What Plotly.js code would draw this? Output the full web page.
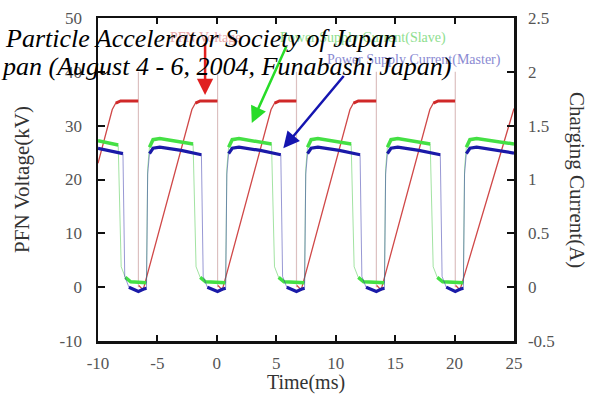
<!DOCTYPE html>
<html>
<head>
<meta charset="utf-8">
<script src="https://cdn.plot.ly/plotly-3.0.1.min.js"></script>
<style>html,body{margin:0;padding:0;background:#fff;}#chart{width:590px;height:394px;}</style>
</head>
<body>
<div id="chart"></div>
<script>
// PFN voltage (kV, left axis); null = fast discharge edge (drawn faint separately)
const redTime = [-10, -8.8, -8.5, -8.1, -6.62, null, -6.57, -6.2,
  -2.1, -1.8, -1.4, 0.04, null, 0.09, 0.46,
  4.56, 4.86, 5.26, 6.68, null, 6.73, 7.1,
  11.2, 11.5, 11.9, 13.4, null, 13.45, 13.82,
  17.92, 18.22, 18.62, 20.04, null, 20.09, 20.46, 25];
const redKV = [23.0, 33.0, 34.2, 34.6, 34.6, null, 0.3, -0.5,
  33.0, 34.2, 34.6, 34.6, null, 0.3, -0.5,
  33.0, 34.2, 34.6, 34.6, null, 0.3, -0.5,
  33.0, 34.2, 34.6, 34.6, null, 0.3, -0.5,
  33.0, 34.2, 34.6, 34.6, null, 0.3, -0.5, 33.2];
// faint switching spikes at each discharge
const dropTime = [-6.6, 0.06, 6.7, 13.42, 20.06];
const dropTopKV = [40, 40, 40, 40, 40];

// Power supply current (Slave), A, right axis
const greenTime = [-10, -8.3, -8.05, -7.7, -7.25, -5.92,
  -5.82, -5.67, -5.37, -4.8, -3.5, -2.0,
  -1.75, -1.4, -0.95, 0.74,
  0.84, 0.99, 1.29, 1.86, 3.16, 4.6,
  4.85, 5.2, 5.65, 7.38,
  7.48, 7.63, 7.93, 8.5, 9.8, 11.3,
  11.55, 11.9, 12.35, 14.1,
  14.2, 14.35, 14.65, 15.22, 16.52, 17.95,
  18.2, 18.55, 19.0, 20.74,
  20.84, 20.99, 21.29, 21.86, 23.16, 25];
const greenA = [1.36, 1.32, 0.19, 0.09, 0.05, 0.04,
  1.1, 1.3, 1.37, 1.38, 1.36, 1.33,
  0.19, 0.09, 0.05, 0.04,
  1.1, 1.3, 1.37, 1.38, 1.36, 1.33,
  0.19, 0.09, 0.05, 0.04,
  1.1, 1.3, 1.37, 1.38, 1.36, 1.33,
  0.19, 0.09, 0.05, 0.04,
  1.1, 1.3, 1.37, 1.38, 1.36, 1.33,
  0.19, 0.09, 0.05, 0.04,
  1.1, 1.3, 1.37, 1.38, 1.36, 1.33];

// Power supply current (Master), A, right axis
const blueTime = [-10, -7.9, -7.75, -7.4, -7.0, -6.6, -6.2, -5.92,
  -5.82, -5.67, -5.37, -4.8, -3.0, -1.3,
  -1.15, -0.8, -0.4, 0.06, 0.45, 0.74,
  0.84, 0.99, 1.29, 1.86, 3.66, 5.38,
  5.53, 5.88, 6.3, 6.7, 7.1, 7.38,
  7.48, 7.63, 7.93, 8.5, 10.3, 12.05,
  12.2, 12.55, 13.0, 13.42, 13.8, 14.1,
  14.2, 14.35, 14.65, 15.22, 17.0, 18.8,
  18.95, 19.3, 19.7, 20.06, 20.45, 20.74,
  20.84, 20.99, 21.29, 21.86, 23.5, 25];
const blueA = [1.29, 1.24, 0.1, 0.0, -0.02, -0.04, -0.02, -0.01,
  1.05, 1.24, 1.29, 1.30, 1.27, 1.23,
  0.1, 0.0, -0.02, -0.04, -0.02, -0.01,
  1.05, 1.24, 1.29, 1.30, 1.27, 1.23,
  0.1, 0.0, -0.02, -0.04, -0.02, -0.01,
  1.05, 1.24, 1.29, 1.30, 1.27, 1.23,
  0.1, 0.0, -0.02, -0.04, -0.02, -0.01,
  1.05, 1.24, 1.29, 1.30, 1.27, 1.23,
  0.1, 0.0, -0.02, -0.04, -0.02, -0.01,
  1.05, 1.24, 1.29, 1.30, 1.27, 1.245];

// tick labels
const xTicks = [-10, -5, 0, 5, 10, 15, 20, 25];
const xTickText = ['-10', '-5', '0', '5', '10', '15', '20', '25'];
const yTicks = [-10, 0, 10, 20, 30, 40, 50];
const yTickText = ['-10', '0', '10', '20', '30', '40', '50'];
const y2Ticks = [-0.5, 0, 0.5, 1, 1.5, 2, 2.5];
const y2TickText = ['-0.5', '0', '0.5', '1', '1.5', '2', '2.5'];

const serif = 'Liberation Serif, Times New Roman, serif';

// flat (plateau / bottom) parts drawn thick to mimic the noisy scope trace
const keep = (arr, f) => arr.map(v => (v !== null && f(v)) ? v : null);
const spikeX = [], spikeY = [];
dropTime.forEach((t, i) => { spikeX.push(t, t, null); spikeY.push(dropTopKV[i], 0, null); });

const traces = [
  {x: spikeX, y: spikeY, mode: 'lines', line: {color: '#dcc0c0', width: 1.2}, hoverinfo: 'skip'},
  {x: greenTime, y: greenA, yaxis: 'y2', mode: 'lines', line: {color: 'rgba(70,200,70,0.5)', width: 1}},
  {x: greenTime, y: keep(greenA, v => v >= 1.2 || v < 0.1), yaxis: 'y2', mode: 'lines',
   line: {color: '#44e044', width: 3.5}, connectgaps: false},
  {x: blueTime, y: blueA, yaxis: 'y2', mode: 'lines', line: {color: 'rgba(50,50,170,0.5)', width: 1}},
  {x: blueTime, y: keep(blueA, v => v >= 1.2 || v < 0.05), yaxis: 'y2', mode: 'lines',
   line: {color: '#1a1aa8', width: 3.2}, connectgaps: false},
  {x: redTime, y: redKV, mode: 'lines', line: {color: '#d04848', width: 1.3}, connectgaps: false},
  {x: redTime, y: keep(redKV, v => v >= 34), mode: 'lines', line: {color: '#d02828', width: 3}, connectgaps: false}
];

const px = p => (p - 98) / 416;
const py = p => (341 - p) / 323;

const layout = {
  width: 590, height: 394,
  margin: {l: 98, r: 76, t: 18, b: 53},
  paper_bgcolor: '#fff', plot_bgcolor: '#fff',
  showlegend: false,
  font: {family: serif, color: '#444', size: 17},
  xaxis: {
    range: [-10, 25], tickvals: xTicks, ticktext: xTickText,
    ticks: 'inside', ticklen: 6, tickwidth: 2, tickcolor: '#111',
    showline: true, linewidth: 2.5, linecolor: '#111', mirror: 'ticks',
    showgrid: false, zeroline: false, ticklabelstandoff: 5,
    tickfont: {family: serif, size: 17, color: '#555'},
    title: {text: 'Time(ms)', font: {family: serif, size: 20, color: '#333'}, standoff: 0}
  },
  yaxis: {
    range: [-10, 50], tickvals: yTicks, ticktext: yTickText,
    ticks: 'inside', ticklen: 7, tickwidth: 2, tickcolor: '#111',
    showline: true, linewidth: 2.5, linecolor: '#111',
    showgrid: false, zeroline: false, ticklabelstandoff: 10,
    tickfont: {family: serif, size: 17, color: '#555'},
    title: {text: 'PFN Voltage(kV)', font: {family: serif, size: 21, color: '#333'}, standoff: 24}
  },
  yaxis2: {
    range: [-0.5, 2.5], overlaying: 'y', side: 'right',
    tickvals: y2Ticks, ticktext: y2TickText,
    ticks: 'inside', ticklen: 7, tickwidth: 2, tickcolor: '#111',
    showline: true, linewidth: 2.5, linecolor: '#111',
    showgrid: false, zeroline: false, ticklabelstandoff: 8,
    tickfont: {family: serif, size: 17, color: '#555'}
  },
  annotations: [
    // legend labels (faded)
    {xref: 'paper', yref: 'paper', x: px(205), y: py(37), text: 'PFN Voltage', showarrow: false,
     font: {family: serif, size: 14, color: '#eaa8a8'}, xanchor: 'center', yanchor: 'middle'},
    {xref: 'paper', yref: 'paper', x: px(448), y: py(38), text: 'Power Supply Current(Slave)', showarrow: false,
     font: {family: serif, size: 14, color: '#8ede8e'}, xanchor: 'right', yanchor: 'middle'},
    {xref: 'paper', yref: 'paper', x: px(503), y: py(60), text: 'Power Supply Current(Master)', showarrow: false,
     font: {family: serif, size: 14, color: '#8a8ad2'}, xanchor: 'right', yanchor: 'middle'},
    // arrows
    {x: -0.99, y: 35.7, ax: -0.99, ay: 45.6, xref: 'x', yref: 'y', axref: 'x', ayref: 'y',
     showarrow: true, arrowhead: 2, arrowsize: 1.3, arrowwidth: 2.5, arrowcolor: '#e02020', text: ''},
    {x: 2.94, y: 30.5, ax: 5.9, ay: 45.0, xref: 'x', yref: 'y', axref: 'x', ayref: 'y',
     showarrow: true, arrowhead: 2, arrowsize: 1.3, arrowwidth: 2.5, arrowcolor: '#28dc28', text: ''},
    {x: 5.59, y: 25.8, ax: 10.78, ay: 39.5, xref: 'x', yref: 'y', axref: 'x', ayref: 'y',
     showarrow: true, arrowhead: 2, arrowsize: 1.3, arrowwidth: 2.5, arrowcolor: '#1515b0', text: ''},
    // right axis title
    {xref: 'paper', yref: 'paper', x: px(577), y: py(180), text: 'Charging Current(A)', showarrow: false,
     textangle: 90, font: {family: serif, size: 21, color: '#333'}, xanchor: 'center', yanchor: 'middle'},
    // overlaid header text
    {xref: 'paper', yref: 'paper', x: px(3), y: py(38), text: '<i>Particle Accelerator Society of Japan</i>',
     showarrow: false, font: {family: serif, size: 26, color: '#000'}, xanchor: 'left', yanchor: 'middle'},
    {xref: 'paper', yref: 'paper', x: px(-1), y: py(66), text: '<i>pan (August 4 - 6, 2004, Funabashi Japan)</i>',
     showarrow: false, font: {family: serif, size: 26, color: '#000'}, xanchor: 'left', yanchor: 'middle'}
  ]
};

Plotly.newPlot('chart', traces, layout, {displayModeBar: false, staticPlot: true});
</script>
</body>
</html>
